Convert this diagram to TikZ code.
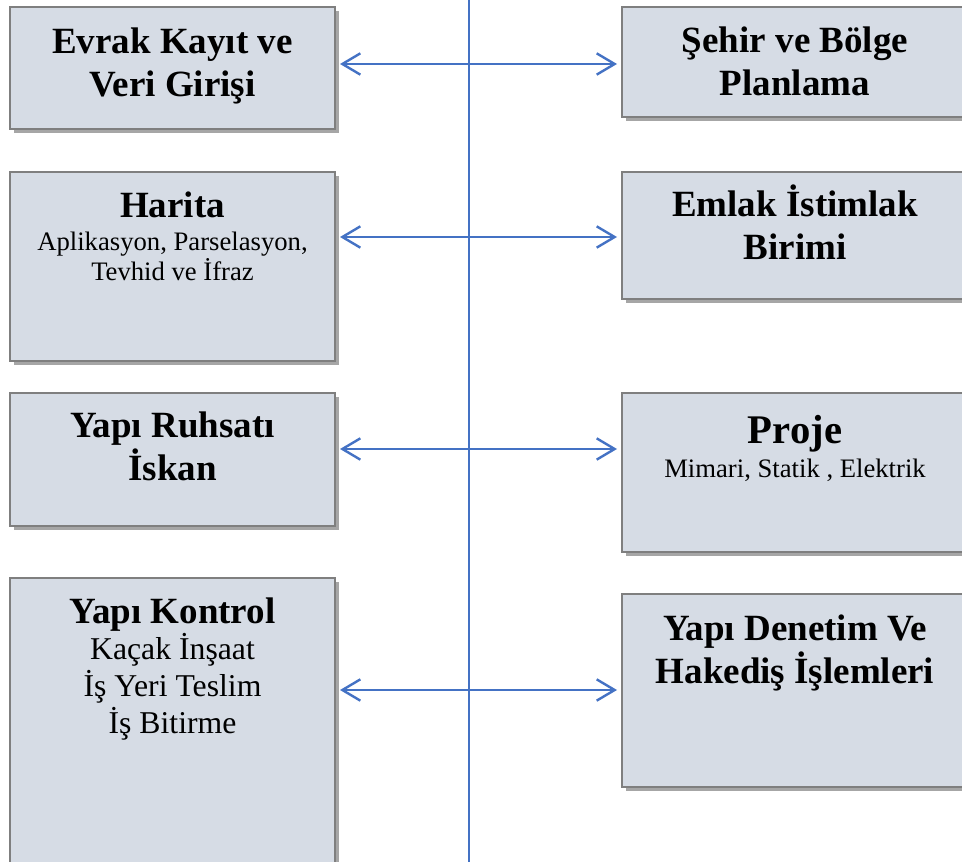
\documentclass[tikz,border=0pt]{standalone}
\usepackage{fontspec}
\setmainfont{Liberation Serif}
\usetikzlibrary{arrows.meta,shadows}

\definecolor{boxfill}{HTML}{D6DCE5}
\definecolor{boxline}{HTML}{7F7F7F}
\definecolor{linkblue}{HTML}{4472C4}

\tikzset{
  unit/.style={draw=boxline, line width=1.5pt, fill=boxfill, inner sep=0pt,
    drop shadow={shadow xshift=3pt, shadow yshift=-3pt, fill=black!35, opacity=1}},
  leftunit/.style={unit, minimum width=243.75pt},
  rightunit/.style={unit, minimum width=259.5pt},
  head/.style={anchor=base, align=center, inner sep=0pt,
    font=\fontsize{27.75}{32.25}\selectfont\bfseries},
  sub/.style={anchor=base, align=center, inner sep=0pt,
    font=\fontsize{20}{22.5}\selectfont},
  link/.style={linkblue, line width=1.8pt,
    {Straight Barb[length=13.5pt,width=16pt]}-{Straight Barb[length=13.5pt,width=16pt]}},
}

\begin{document}
\begin{tikzpicture}[x=0.75pt, y=-0.75pt]
  \useasboundingbox (0,0) rectangle (962,862);

  % middle line
  \coordinate (axtop) at (469,0);
  \coordinate (axbot) at (469,862);
  \draw[draw=linkblue, line width=1pt] (axtop) -- (axbot);

  % left column (base anchor sits on the last line)
  \node[leftunit, minimum height=91.5pt] (evrak) at (172.5,68) {};
  \node[head] (evrak-t) at (172.5,97) {Evrak Kayıt ve\\Veri Girişi};

  \node[leftunit, minimum height=141.75pt] (harita) at (172.5,266.5) {};
  \node[head] (harita-t) at (172.5,218) {Harita};
  \node[sub] (harita-s) at (172.5,281) {Aplikasyon, Parselasyon,\\Tevhid ve İfraz};

  \node[leftunit, minimum height=99.75pt] (ruhsat) at (172.5,459.5) {};
  \node[head] (ruhsat-t) at (172.5,480) {Yapı Ruhsatı\\İskan};

  \node[leftunit, minimum height=225pt] (kontrol) at (172.5,728) {};
  \node[head] (kontrol-t) at (172.5,623) {Yapı Kontrol};
  \node[sub, font=\fontsize{23.8}{27.75}\selectfont] (kontrol-s) at (172.5,733)
    {Kaçak İnşaat\\İş Yeri Teslim\\İş Bitirme};

  % right column
  \node[rightunit, minimum height=82.5pt] (sehir) at (795,62) {};
  \node[head] (sehir-t) at (795,96) {Şehir ve Bölge\\Planlama};

  \node[rightunit, minimum height=95.25pt] (emlak) at (795,235.5) {};
  \node[head] (emlak-t) at (795,260) {Emlak İstimlak\\Birimi};

  \node[rightunit, minimum height=119.25pt] (proje) at (795,472.5) {};
  \node[head, font=\fontsize{30.5}{34}\selectfont\bfseries] (proje-t) at (795,443) {Proje};
  \node[sub] (proje-s) at (795,477) {Mimari, Statik , Elektrik};

  \node[rightunit, minimum height=144.75pt] (denetim) at (795,690.5) {};
  \node[head] (denetim-t) at (795,683) {Yapı Denetim Ve\\Hakediş İşlemleri};

  % links between the columns
  \coordinate (row1) at (0,64);
  \coordinate (row2) at (0,237);
  \coordinate (row3) at (0,449);
  \coordinate (row4) at (0,690);
  \draw[link, shorten <=3pt, shorten >=3pt] (evrak.east |- row1) -- (sehir.west |- row1);
  \draw[link, shorten <=3pt, shorten >=3pt] (harita.east |- row2) -- (emlak.west |- row2);
  \draw[link, shorten <=3pt, shorten >=3pt] (ruhsat.east |- row3) -- (proje.west |- row3);
  \draw[link, shorten <=3pt, shorten >=3pt] (kontrol.east |- row4) -- (denetim.west |- row4);
\end{tikzpicture}
\end{document}
